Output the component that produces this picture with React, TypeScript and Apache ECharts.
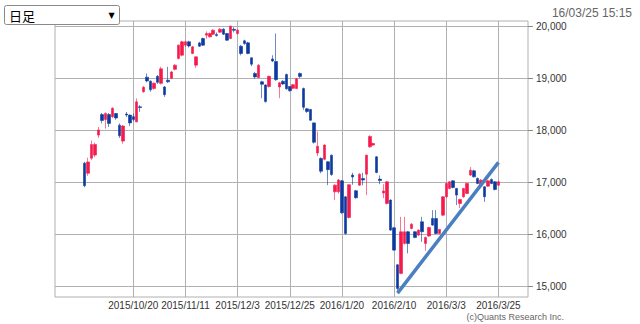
import React, { useEffect, useRef } from "react";
import * as echarts from "echarts";

// ---- data ----
const dates = [
  "2015/9/29", "2015/9/30", "2015/10/1", "2015/10/2", "2015/10/5", "2015/10/6", "2015/10/7", "2015/10/8", "2015/10/9", "2015/10/13",
  "2015/10/14", "2015/10/15", "2015/10/16", "2015/10/19", "2015/10/20", "2015/10/21", "2015/10/22", "2015/10/23", "2015/10/26", "2015/10/27",
  "2015/10/28", "2015/10/29", "2015/10/30", "2015/11/2", "2015/11/4", "2015/11/5", "2015/11/6", "2015/11/9", "2015/11/10", "2015/11/11",
  "2015/11/12", "2015/11/13", "2015/11/16", "2015/11/17", "2015/11/18", "2015/11/19", "2015/11/20", "2015/11/24", "2015/11/25", "2015/11/26",
  "2015/11/27", "2015/11/30", "2015/12/1", "2015/12/2", "2015/12/3", "2015/12/4", "2015/12/7", "2015/12/8", "2015/12/9", "2015/12/10",
  "2015/12/11", "2015/12/14", "2015/12/15", "2015/12/16", "2015/12/17", "2015/12/18", "2015/12/21", "2015/12/22", "2015/12/24", "2015/12/25",
  "2015/12/28", "2015/12/29", "2015/12/30", "2016/1/4", "2016/1/5", "2016/1/6", "2016/1/7", "2016/1/8", "2016/1/12", "2016/1/13",
  "2016/1/14", "2016/1/15", "2016/1/18", "2016/1/19", "2016/1/20", "2016/1/21", "2016/1/22", "2016/1/25", "2016/1/26", "2016/1/27",
  "2016/1/28", "2016/1/29", "2016/2/1", "2016/2/2", "2016/2/3", "2016/2/4", "2016/2/5", "2016/2/8", "2016/2/9", "2016/2/10",
  "2016/2/12", "2016/2/15", "2016/2/16", "2016/2/17", "2016/2/18", "2016/2/19", "2016/2/22", "2016/2/23", "2016/2/24", "2016/2/25",
  "2016/2/26", "2016/2/29", "2016/3/1", "2016/3/2", "2016/3/3", "2016/3/4", "2016/3/7", "2016/3/8", "2016/3/9", "2016/3/10",
  "2016/3/11", "2016/3/14", "2016/3/15", "2016/3/16", "2016/3/17", "2016/3/18", "2016/3/22", "2016/3/23", "2016/3/24", "2016/3/25",
];

const opens = [
  17365, 17170, 17460, 17520, 17905, 18300, 18205, 18300, 18260, 18320,
  18096, 17790, 18310, 18290, 18260, 18160, 18450, 18740, 19020, 18940,
  18800, 19035, 18900, 18830, 18960, 19000, 19170, 19380, 19442, 19635,
  19699, 19475, 19250, 19679, 19763, 19827, 19795, 19846, 19840, 19885,
  19942, 19859, 19763, 19940, 19859, 19615, 19718, 19680, 19391, 19090,
  19013, 18930, 18870, 18840, 19370, 19320, 18830, 18940, 19070, 18840,
  18805, 18800, 19090, 18800, 18410, 18398, 18140, 17560, 17455, 17440,
  17391, 17519, 16814, 16814, 17025, 16718, 16320, 17135, 16833, 16942,
  17071, 17154, 17679, 17712, 17487, 17058, 16790, 16590, 16654, 16121,
  15410, 15244, 15821, 16045, 16109, 16045, 15981, 16237, 15821, 15962,
  16301, 16301, 16013, 16365, 16718, 16878, 17025, 16878, 16590, 16718,
  16782, 17135, 17218, 17071, 16942, 16910, 16923, 17051, 17006, 16942,
];

const closes = [
  16931, 17388, 17722, 17725, 18005, 18186, 18322, 18130, 18420, 18234,
  17891, 18080, 18291, 18140, 18207, 18545, 18435, 18825, 18947, 18777,
  18903, 18920, 19180, 18683, 18930, 19120, 19250, 19635, 19699, 19699,
  19620, 19603, 19410, 19615, 19635, 19859, 19859, 19923, 19820, 19942,
  19846, 19731, 20000, 19920, 19923, 19475, 19667, 19475, 19269, 19025,
  19250, 18883, 18550, 19035, 19330, 18970, 18910, 18890, 18795, 18760,
  18875, 18990, 19030, 18440, 18360, 18192, 17767, 17690, 17210, 17712,
  17240, 17147, 16942, 17040, 16410, 16010, 16950, 17100, 16700, 17154,
  17040, 17518, 17880, 17744, 17185, 17030, 16830, 17006, 16077, 15692,
  14955, 16045, 16045, 15821, 16192, 15936, 16077, 16045, 15936, 16128,
  16173, 16013, 16090, 16718, 16974, 17006, 16897, 16750, 16667, 16878,
  16974, 17230, 17102, 16974, 17038, 16718, 17025, 16974, 16859, 17006,
];

const lows = [
  16901, 17120, 17430, 17480, 17850, 18130, 18030, 18060, 18230, 18200,
  17850, 17740, 18250, 18077, 18170, 18150, 18352, 18720, 18920, 18740,
  18780, 18890, 18880, 18640, 18910, 18980, 19150, 19360, 19420, 19600,
  19590, 19460, 19200, 19600, 19620, 19760, 19780, 19830, 19800, 19870,
  19830, 19720, 19750, 19880, 19840, 19440, 19640, 19460, 19230, 18990,
  19000, 18615, 18530, 18820, 19310, 18950, 18615, 18870, 18780, 18740,
  18790, 18790, 19000, 18390, 18330, 18180, 17740, 17500, 17170, 17420,
  16942, 17120, 16654, 16780, 16390, 15990, 16300, 16950, 16680, 16930,
  16940, 16750, 17660, 17700, 17170, 16960, 16690, 16570, 16060, 15680,
  14865, 15230, 15800, 15628, 16090, 15920, 15960, 15850, 15680, 15950,
  16160, 16000, 16000, 16350, 16700, 16860, 16880, 16558, 16500, 16700,
  16770, 17120, 17090, 16960, 16930, 16620, 16910, 16960, 16840, 16930,
];

const highs = [
  17390, 17470, 17800, 17760, 18060, 18330, 18340, 18330, 18440, 18330,
  18130, 18100, 18350, 18300, 18320, 18609, 18480, 18850, 19090, 18960,
  18920, 19060, 19218, 18850, 19220, 19140, 19270, 19650, 19720, 19720,
  19720, 19620, 19420, 19700, 19780, 19900, 19880, 19940, 19880, 19960,
  19960, 19870, 20012, 19980, 19940, 19640, 19740, 19700, 19400, 19120,
  19270, 18950, 18880, 19050, 19440, 19860, 18930, 18960, 19090, 18850,
  18890, 19000, 19110, 18820, 18430, 18410, 18150, 17975, 17480, 17730,
  17400, 17530, 16960, 17060, 17040, 16730, 16960, 17180, 16850, 17170,
  17180, 17530, 17900, 17760, 17500, 17130, 16960, 17020, 16670, 16130,
  15420, 16333, 16333, 16060, 16210, 16060, 16090, 16333, 15950, 16140,
  16462, 16462, 16100, 16730, 16990, 17020, 17040, 16890, 16680, 16890,
  16990, 17290, 17240, 17090, 17060, 16920, 17040, 17070, 17020, 17030,
];

const xTickLabels = ["2015/10/20", "2015/11/11", "2015/12/3", "2015/12/25", "2016/1/20", "2016/2/10", "2016/3/3", "2016/3/25"];
const yTicks = [15000, 16000, 17000, 18000, 19000, 20000];
const yRange = [14790, 20100];
const trendDates = ["2016/2/12", "2016/3/25"];
const trendValues = [14865, 17380];
const periodLabel = "日足";
const timestamp = "16/03/25 15:15";
const copyright = "(c)Quants Research Inc.";

const PAD_BEFORE = 8;
const PAD_AFTER = 8;

export default function App() {
  const ref = useRef<HTMLDivElement>(null);

  useEffect(() => {
    if (!ref.current) return;
    const chart = echarts.init(ref.current, undefined, { renderer: "svg" });

    const categories: string[] = [];
    const candles: any[] = [];
    for (let k = 0; k < PAD_BEFORE; k++) { categories.push("pre" + k); candles.push("-"); }
    dates.forEach((d, i) => {
      categories.push(d);
      candles.push([opens[i], closes[i], lows[i], highs[i]]);
    });
    for (let k = 0; k < PAD_AFTER; k++) { categories.push("post" + k); candles.push("-"); }

    const isTick = (_idx: number, value: string) => xTickLabels.indexOf(value) >= 0;
    // labels are split over two stacked axes so that tightly packed neighbours are all kept
    const isEvenTick = (_idx: number, value: string) => xTickLabels.indexOf(value) >= 0 && xTickLabels.indexOf(value) % 2 === 0;
    const isOddTick = (_idx: number, value: string) => xTickLabels.indexOf(value) % 2 === 1;
    const gridColor = "#b0b0b0";

    const labelStyle = {
      color: "#333",
      fontSize: 10,
      fontFamily: "Liberation Sans",
      margin: 3,
      hideOverlap: false,
      showMinLabel: true,
      showMaxLabel: true,
    };

    chart.setOption({
      animation: false,
      backgroundColor: "#ffffff",
      grid: {
        left: 55,
        right: 112,
        top: 21,
        bottom: 27,
        show: true,
        borderColor: gridColor,
        borderWidth: 1,
        backgroundColor: "transparent",
      },
      xAxis: [
        {
          type: "category",
          data: categories,
          boundaryGap: true,
          position: "bottom",
          axisLine: { show: false },
          axisTick: { show: false },
          axisLabel: { ...labelStyle, interval: isEvenTick },
          splitLine: {
            show: true,
            interval: isTick,
            alignWithLabel: true,
            lineStyle: { color: gridColor, width: 1 },
          },
        },
        {
          type: "category",
          data: categories,
          boundaryGap: true,
          position: "bottom",
          offset: 0,
          axisLine: { show: false },
          axisTick: { show: false },
          axisLabel: { ...labelStyle, interval: isOddTick },
          splitLine: { show: false },
        },
      ],
      yAxis: {
        type: "value",
        position: "right",
        min: yRange[0],
        max: yRange[1],
        scale: true,
        axisLine: { show: false },
        axisTick: {
          show: true,
          inside: false,
          length: 5,
          customValues: yTicks,
          lineStyle: { color: "#888" },
        },
        axisLabel: {
          customValues: yTicks,
          color: "#333",
          fontSize: 10,
          fontFamily: "Liberation Sans",
          margin: 8,
          formatter: (v: number) => v.toLocaleString("en-US"),
        },
        splitLine: { show: true, lineStyle: { color: gridColor, width: 1 } },
      },
      series: [
        {
          type: "candlestick",
          xAxisIndex: 0,
          data: candles,
          barWidth: 3,
          itemStyle: {
            color: "#f51a4c",
            color0: "#0d3a9e",
            borderColor: "#f51a4c",
            borderColor0: "#0d3a9e",
            borderWidth: 0.6,
          },
        },
        {
          type: "line",
          xAxisIndex: 0,
          data: trendDates.map((d, i) => [d, trendValues[i]]),
          symbol: "none",
          lineStyle: { color: "#4a80c0", width: 3.5 },
          z: 5,
        },
      ],
      graphic: [
        {
          type: "rect",
          shape: { x: 4.5, y: 5.5, width: 115, height: 19, r: 2 },
          style: { fill: "#fff", stroke: "#8a8a8a", lineWidth: 1 },
        },
        {
          type: "text",
          x: 9,
          y: 15.5,
          style: { text: periodLabel, fontSize: 13, fontFamily: "Noto Sans CJK JP", fill: "#000", verticalAlign: "middle" },
        },
        {
          type: "text",
          x: 111.5,
          y: 15.5,
          style: { text: "▼", fontSize: 8, fontFamily: "DejaVu Sans", fill: "#000", align: "center", verticalAlign: "middle" },
        },
        {
          type: "text",
          x: 632,
          y: 13,
          style: { text: timestamp, fontSize: 12, fontFamily: "Liberation Sans", fill: "#666", align: "right", verticalAlign: "middle" },
        },
        {
          type: "text",
          x: 564,
          y: 317,
          style: { text: copyright, fontSize: 9, fontFamily: "Liberation Sans", fill: "#666", align: "right", verticalAlign: "middle" },
        },
      ],
    });

    return () => chart.dispose();
  }, []);

  return (
    <div
      ref={ref}
      style={{ position: "fixed", left: 0, top: 0, width: 640, height: 324, background: "#fff" }}
    />
  );
}
